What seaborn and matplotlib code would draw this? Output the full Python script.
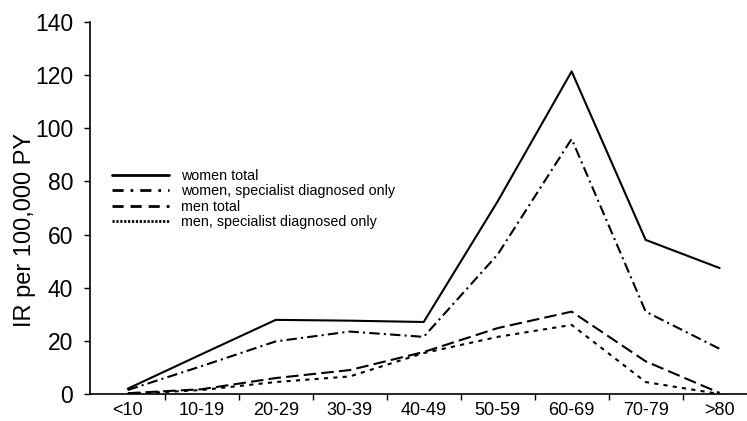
import matplotlib
matplotlib.use("Agg")
import matplotlib.pyplot as plt
import seaborn as sns
import pandas as pd
import numpy as np

age_groups = ["<10", "10-19", "20-29", "30-39", "40-49", "50-59", "60-69", "70-79", ">80"]
women_total = [2.0, 15.0, 27.9, 27.6, 27.1, 72.5, 121.4, 58.0, 47.4]
women_specialist = [1.5, 10.5, 19.8, 23.5, 21.5, 52.5, 96.0, 31.0, 17.0]
men_total = [0.3, 1.8, 6.0, 9.0, 15.8, 24.8, 31.0, 12.3, 0.4]
men_specialist = [0.0, 1.5, 4.5, 6.6, 15.4, 21.5, 26.0, 4.5, 0.0]
series_names = ["women total", "women, specialist diagnosed only",
                "men total", "men, specialist diagnosed only"]
y_ticks = [0, 20, 40, 60, 80, 100, 120, 140]

rows = []
for name, vals in zip(series_names, [women_total, women_specialist, men_total, men_specialist]):
    for i, v in enumerate(vals):
        rows.append({"pos": i, "age": age_groups[i], "IR": v, "series": name})
df = pd.DataFrame(rows)

sns.set_theme(style="ticks", rc={"text.color": "black", "axes.labelcolor": "black",
                                 "xtick.color": "black", "ytick.color": "black"})
plt.rcParams["font.family"] = ["Liberation Sans", "DejaVu Sans"]

fig = plt.figure(figsize=(7.47, 4.21), dpi=100)
ax = fig.add_axes([90 / 747, 1 - 394 / 421, 657 / 747, 372 / 421])

line_dashes = {
    series_names[0]: "",
    series_names[1]: (5, 2, 1, 2),
    series_names[2]: (6, 2.5),
    series_names[3]: (2, 2.5),
}
sns.lineplot(data=df, x="pos", y="IR", hue="series", style="series",
             hue_order=series_names, style_order=series_names,
             palette=["black"] * 4, dashes=line_dashes, linewidth=1.5,
             sort=False, ax=ax)

ax.set_xlim(-0.51, 8.37)
ax.set_ylim(0, 140)
ax.set_yticks(y_ticks)
ax.set_yticklabels([str(t) for t in y_ticks], fontsize=16.5)
ax.set_xticks(np.arange(0.5, 8, 1.0))
ax.set_xticklabels([])
ax.set_xticks(np.arange(len(age_groups)), minor=True)
ax.set_xticklabels(age_groups, minor=True, fontsize=13)
ax.tick_params(axis="x", which="minor", length=0, pad=6)
ax.tick_params(axis="x", which="major", length=4, width=1, direction="out", color="black")
ax.tick_params(axis="y", length=4, width=1, direction="out", pad=8, color="black")
ax.set_xlabel("")
ax.set_ylabel("IR per 100,000 PY", fontsize=17)
ax.yaxis.set_label_coords(-0.082, 0.44)
for s in ["top", "right"]:
    ax.spines[s].set_visible(False)
for s in ["left", "bottom"]:
    ax.spines[s].set_color("black")
    ax.spines[s].set_linewidth(1.2)

handles, labels = ax.get_legend_handles_labels()
legend_styles = ["-", (0, (4, 2.5, 1, 2.5)), (0, (4, 2.5)), (0, (0.8, 0.6))]
leg_handles = []
for h, ls in zip(handles, legend_styles):
    h.set_linestyle(ls)
    h.set_linewidth(2)
    h.set_color("black")
    leg_handles.append(h)
ax.legend(leg_handles, labels, loc="upper left",
          bbox_to_anchor=(112 / 747, 1 - 169 / 421), bbox_transform=fig.transFigure,
          frameon=False, fontsize=10.3, handlelength=4.0, handletextpad=0.8,
          labelspacing=0.1, borderpad=0, borderaxespad=0)

fig.savefig("out.png", dpi=100)
